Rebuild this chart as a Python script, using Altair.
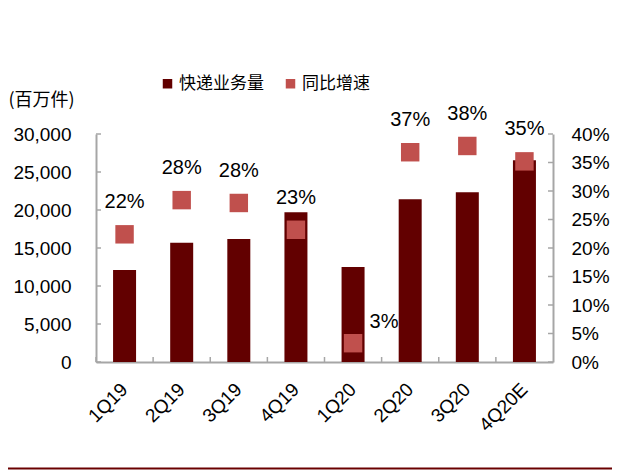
import altair as alt
import pandas as pd

quarters = ["1Q19", "2Q19", "3Q19", "4Q19", "1Q20", "2Q20", "3Q20", "4Q20E"]
volume = [12100, 15700, 16200, 19700, 12500, 21400, 22350, 26550]
growth = [0.224, 0.284, 0.279, 0.232, 0.033, 0.368, 0.379, 0.352]
left_ticks = [0, 5000, 10000, 15000, 20000, 25000, 30000]
right_ticks = [0, 0.05, 0.10, 0.15, 0.20, 0.25, 0.30, 0.35, 0.40]
series = ["快递业务量", "同比增速"]
colors = ["#620000", "#C0504D"]

W, H = 457, 228
NUM_FONT = "Liberation Sans"
CJK_FONT = "Noto Sans CJK SC"
AXIS_GRAY = "#A6A6A6"

df_bar = pd.DataFrame({"q": quarters, "v": volume, "s": series[0]})
df_pt = pd.DataFrame({"q": quarters, "g": growth, "s": series[1]})
df_lt = pd.DataFrame({"t": left_ticks})
df_rt = pd.DataFrame({"t": right_ticks})
df_q = pd.DataFrame({"q": quarters})

xscale = alt.Scale(domain=quarters, paddingInner=0, paddingOuter=0)
xaxis = alt.Axis(labelAngle=-45, labelAlign="right", labelBaseline="middle",
                 labelFont=NUM_FONT, labelFontSize=19,
                 labelColor="#000000", ticks=False, domainColor=AXIS_GRAY,
                 domainWidth=2, labelPadding=24, title=None)
color = alt.Color(
    "s:N",
    scale=alt.Scale(domain=series, range=colors),
    legend=alt.Legend(
        title=None, orient="none", legendX=63, legendY=-59, direction="horizontal",
        symbolType="square", symbolSize=90, labelFont=CJK_FONT, labelFontSize=17,
        labelColor="#000000", columnPadding=18, labelOffset=3, padding=0,
        symbolStrokeWidth=0,
    ),
)

lscale = alt.Scale(domain=[0, 30000], nice=False)
rscale = alt.Scale(domain=[0, 0.4], nice=False)
laxis = alt.Axis(values=left_ticks, format=",d", orient="left", ticks=False,
                 grid=False, domainColor=AXIS_GRAY, domainWidth=2,
                 labelFont=NUM_FONT, labelFontSize=19, labelColor="#000000",
                 labelPadding=25, title="(百万件)", titleAngle=0, titleAlign="left",
                 titleBaseline="middle", titleX=-88, titleY=-34,
                 titleFont=CJK_FONT, titleFontSize=18, titleFontWeight="normal",
                 titleColor="#000000")
raxis = alt.Axis(values=right_ticks, format=".0%", orient="right", ticks=False,
                 grid=False, domainColor=AXIS_GRAY, domainWidth=2,
                 labelFont=NUM_FONT, labelFontSize=19, labelColor="#000000",
                 labelPadding=18, title=None)

X = lambda **kw: alt.X("q:N", sort=quarters, scale=xscale, axis=xaxis, **kw)

bars = alt.Chart(df_bar).mark_bar(size=23, opacity=1).encode(
    x=X(),
    y=alt.Y("v:Q", scale=lscale, axis=laxis),
    color=color,
)

lt = alt.Chart(df_lt).mark_rule(color=AXIS_GRAY, strokeWidth=1.5).encode(
    y=alt.Y("t:Q", scale=lscale, axis=laxis),
    x=alt.value(0), x2=alt.value(5),
)

xt = alt.Chart(df_q).mark_rule(color=AXIS_GRAY, strokeWidth=1.5).encode(
    x=X(bandPosition=0),
    y=alt.value(H), y2=alt.value(H - 5),
)

bottom_line = alt.Chart(df_q.head(1)).mark_rule(color="#6A0000", strokeWidth=2).encode(
    x=alt.value(-96), x2=alt.value(W + 80), y=alt.value(334.5),
)

left = alt.layer(bars, lt, xt, bottom_line)

pts = alt.Chart(df_pt).mark_square(size=340, opacity=1, filled=True).encode(
    x=X(),
    y=alt.Y("g:Q", scale=rscale, axis=raxis),
    color=color,
)

txt_base = alt.Chart(df_pt).encode(
    x=X(),
    y=alt.Y("g:Q", scale=rscale, axis=raxis),
    text=alt.Text("g:Q", format=".0%"),
)
txt_main = txt_base.transform_filter(alt.datum.q != "1Q20").mark_text(
    dy=-32, baseline="middle", font=NUM_FONT, fontSize=20, color="#000000")
txt_low = txt_base.transform_filter(alt.datum.q == "1Q20").mark_text(
    dx=31, dy=-21, baseline="middle", font=NUM_FONT, fontSize=20, color="#000000")

rt = alt.Chart(df_rt).mark_rule(color=AXIS_GRAY, strokeWidth=1.5).encode(
    y=alt.Y("t:Q", scale=rscale, axis=raxis),
    x=alt.value(W), x2=alt.value(W - 5),
)

right = alt.layer(pts, txt_main, txt_low, rt)

chart = alt.layer(left, right).resolve_scale(y="independent").properties(
    width=W, height=H,
    autosize=alt.AutoSizeParams(type="none"),
    padding={"left": 88, "top": 126, "right": 59, "bottom": 109},
    background="white",
).configure_view(stroke=None)

chart.save("out.html", embed_options={"renderer": "svg", "actions": False})
